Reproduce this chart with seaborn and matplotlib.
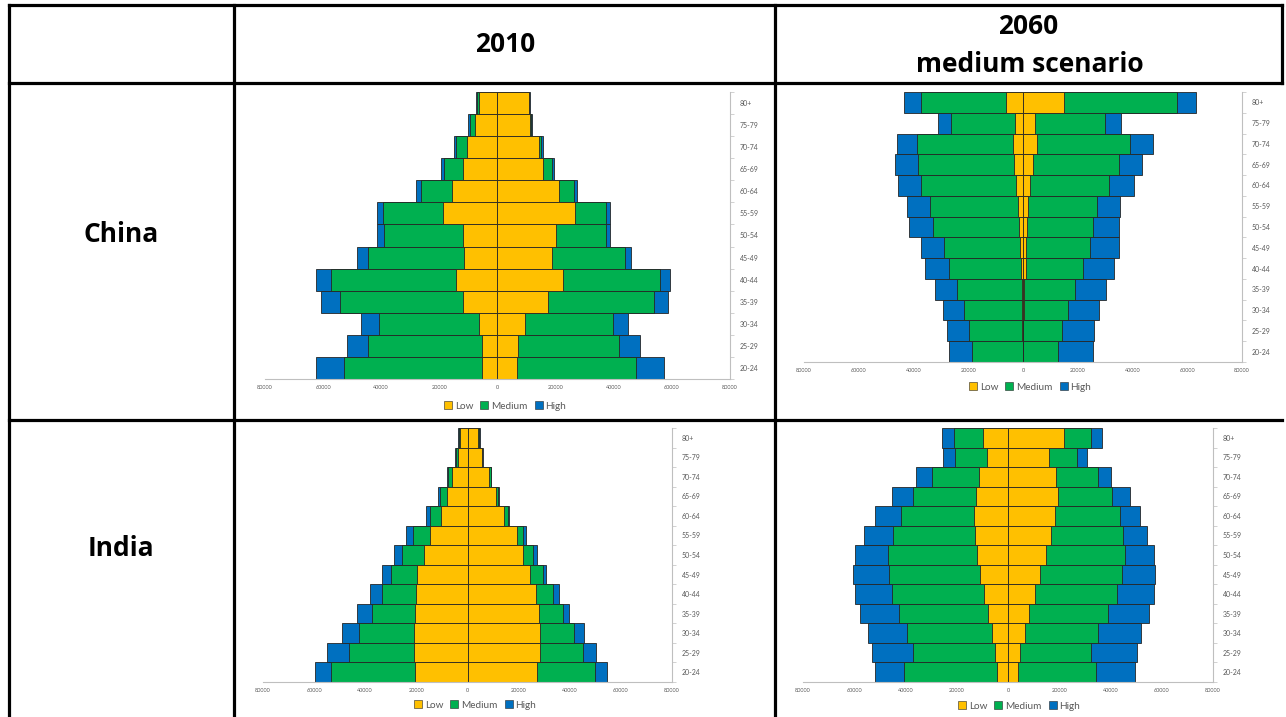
import numpy as np
import seaborn as sns
import matplotlib.pyplot as plt
from matplotlib.patches import Patch

# age groups, top of the pyramid first
ages = ["80+", "75-79", "70-74", "65-69", "60-64", "55-59", "50-54",
        "45-49", "40-44", "35-39", "30-34", "25-29", "20-24"]
series = ["Low", "Medium", "High"]
xticks = [-80000, -60000, -40000, -20000, 0, 20000, 40000, 60000, 80000]

# China 2010
china_2010_low_left = [6300, 7900, 10550, 11800, 15700, 18600, 11800, 11500, 14300, 12000, 6500, 5200, 5500]
china_2010_med_left = [6900, 9500, 14300, 18350, 26400, 39500, 39000, 44400, 57350, 54100, 40800, 44400, 52800]
china_2010_high_left = [7300, 10000, 15100, 19500, 27900, 41500, 41500, 48200, 62400, 60800, 47000, 51800, 62500]
china_2010_low_right = [10700, 11200, 14200, 15500, 21000, 26600, 20100, 18900, 22400, 17500, 9400, 7200, 6650]
china_2010_med_right = [10900, 11500, 15100, 18700, 26400, 37500, 37500, 43900, 56000, 53700, 39600, 41900, 47600]
china_2010_high_right = [11200, 11800, 15700, 19300, 27200, 38800, 38800, 46000, 59300, 58500, 44800, 48900, 57350]

# China 2060 medium scenario
china_2060_low_left = [6200, 2800, 3700, 3200, 2600, 1800, 1300, 1000, 700, 500, 350, 250, 100]
china_2060_med_left = [37300, 26200, 38550, 38300, 37300, 33800, 32700, 29000, 27000, 24200, 21600, 19900, 18800]
china_2060_high_left = [43400, 31100, 46100, 46600, 45750, 42200, 41600, 37300, 35700, 32300, 29400, 27800, 27000]
china_2060_low_right = [15100, 4500, 5200, 3800, 2700, 1800, 1500, 1000, 1000, 500, 250, 150, 50]
china_2060_med_right = [56200, 30000, 39200, 35100, 31500, 27000, 25400, 24400, 22100, 18900, 16300, 14150, 12700]
china_2060_high_right = [63300, 35700, 47600, 43600, 40400, 35500, 35100, 35100, 33400, 30400, 27800, 26100, 25400]

# India 2010
india_2010_low_left = [2900, 3900, 6100, 8000, 10400, 14500, 17100, 19600, 20300, 20600, 21000, 21000, 20600]
india_2010_med_left = [3400, 4600, 7600, 10700, 14500, 21500, 25700, 29900, 33500, 37400, 42400, 46300, 53500]
india_2010_high_left = [3800, 5000, 8000, 11700, 16200, 23900, 28800, 33400, 38300, 43300, 49200, 54800, 59700]
india_2010_low_right = [4300, 5500, 8600, 11100, 14100, 19300, 21900, 24500, 26900, 27800, 28200, 28200, 27300]
india_2010_med_right = [4400, 5700, 9000, 12100, 15800, 21900, 25800, 29600, 33600, 37200, 41500, 45300, 49700]
india_2010_high_right = [4700, 6000, 9300, 12500, 16300, 23000, 27100, 30900, 35600, 39900, 45400, 50200, 54600]

# India 2060 medium scenario
india_2060_low_left = [9600, 8100, 11200, 12600, 13100, 12700, 12200, 10900, 9500, 7800, 6400, 4900, 4300]
india_2060_med_left = [21200, 20500, 29500, 36900, 41600, 44700, 46800, 46300, 45100, 42600, 39300, 37050, 40600]
india_2060_high_left = [25700, 25200, 36000, 45400, 51900, 56300, 59800, 60450, 59900, 57900, 54600, 52900, 51900]
india_2060_low_right = [21800, 16000, 18850, 19500, 18500, 16900, 14950, 12600, 10500, 8300, 6500, 4800, 3900]
india_2060_med_right = [32500, 26900, 35100, 40700, 43550, 44700, 45500, 44300, 42500, 39100, 35100, 32200, 34450]
india_2060_high_right = [36500, 30700, 40300, 47450, 51600, 54300, 56800, 57500, 56900, 55000, 52000, 50300, 49650]

colors = {"Low": "#FFC000", "Medium": "#00B050", "High": "#0070C0"}
edge = "#262626"
grey = "#595959"
axis_grey = "#bfbfbf"

sns.set_theme(style="white")
plt.rcParams['font.family'] = ['Lato', 'DejaVu Sans']

W, H = 1286, 717
fig = plt.figure(figsize=(W / 100, H / 100), dpi=100)


def px_axes(x0, x1, top, bottom):
    return fig.add_axes([x0 / W, 1 - bottom / H, (x1 - x0) / W, (bottom - top) / H])


def pyramid(ax, low_l, med_l, high_l, low_r, med_r, high_r, leg_xy):
    sides = [(high_l, high_r, "High"), (med_l, med_r, "Medium"), (low_l, low_r, "Low")]
    for left, right, name in sides:
        sns.barplot(x=-np.array(left), y=ages, order=ages, color=colors[name], width=1.0,
                    edgecolor=edge, linewidth=0.6, errorbar=None, saturation=1, ax=ax)
        sns.barplot(x=np.array(right), y=ages, order=ages, color=colors[name], width=1.0,
                    edgecolor=edge, linewidth=0.6, errorbar=None, saturation=1, ax=ax)
    ax.set_xlim(-80000, 80000)
    ax.set_xticks(xticks)
    ax.set_xticklabels([str(abs(t)) for t in xticks], fontsize=4, color=grey)
    ax.set_xlabel("")
    ax.set_ylabel("")
    ax.yaxis.tick_right()
    ax.set_yticks(range(len(ages)))
    ax.set_yticklabels(ages, fontsize=5, color=grey)
    ax.set_yticks(np.arange(-0.5, len(ages)), minor=True)
    ax.tick_params(axis="y", which="major", length=0, pad=7)
    ax.tick_params(axis="y", which="minor", length=3, width=0.5, color=axis_grey, direction="out", right=True, left=False)
    ax.tick_params(axis="x", length=2, width=0.5, color=axis_grey, direction="in", pad=4)
    for s in ["left", "top"]:
        ax.spines[s].set_visible(False)
    for s in ["right", "bottom"]:
        ax.spines[s].set_color(axis_grey)
        ax.spines[s].set_linewidth(0.8)
    ax.patch.set_alpha(0)
    handles = [Patch(facecolor=colors[n], edgecolor=edge, linewidth=0.4, label=n) for n in series]
    fig.legend(handles=handles, loc="center", bbox_to_anchor=(leg_xy[0] / W, 1 - leg_xy[1] / H),
               ncol=3, frameon=False, fontsize=7.2, handlelength=0.8, handleheight=0.8,
               handletextpad=0.3, columnspacing=0.7, labelcolor=grey)


ax1 = px_axes(265, 730, 92, 379)
pyramid(ax1, china_2010_low_left, china_2010_med_left, china_2010_high_left,
        china_2010_low_right, china_2010_med_right, china_2010_high_right, (505, 406))
ax2 = px_axes(804, 1242, 92, 362)
pyramid(ax2, china_2060_low_left, china_2060_med_left, china_2060_high_left,
        china_2060_low_right, china_2060_med_right, china_2060_high_right, (1030, 387))
ax3 = px_axes(263, 672, 428, 682)
pyramid(ax3, india_2010_low_left, india_2010_med_left, india_2010_high_left,
        india_2010_low_right, india_2010_med_right, india_2010_high_right, (475, 705))
ax4 = px_axes(803, 1213, 428, 682)
pyramid(ax4, india_2060_low_left, india_2060_med_left, india_2060_high_left,
        india_2060_low_right, india_2060_med_right, india_2060_high_right, (1019, 706))

# table grid and headings on a full-figure overlay
grid = fig.add_axes([0, 0, 1, 1], zorder=5)
grid.set_xlim(0, W)
grid.set_ylim(H, 0)
grid.axis("off")
lw = 2.3
for y in [5, 83, 420]:
    grid.plot([9, 1282], [y, y], color="black", lw=lw, solid_capstyle="projecting")
for x in [9, 234, 775]:
    grid.plot([x, x], [5, H + 5], color="black", lw=lw, solid_capstyle="projecting")
grid.plot([1282, 1282], [5, 83], color="black", lw=lw, solid_capstyle="projecting")

head = dict(fontsize=19, fontweight="bold", color="black", ha="center", va="center",
            family=["Open Sans", "DejaVu Sans"])
grid.text(505, 44, "2010", **head)
grid.text(1028, 26, "2060", **head)
grid.text(1030, 64, "medium scenario", **head)
grid.text(121, 234, "China", **head)
grid.text(121, 549, "India", **head)

fig.savefig("out.png", dpi=100)
